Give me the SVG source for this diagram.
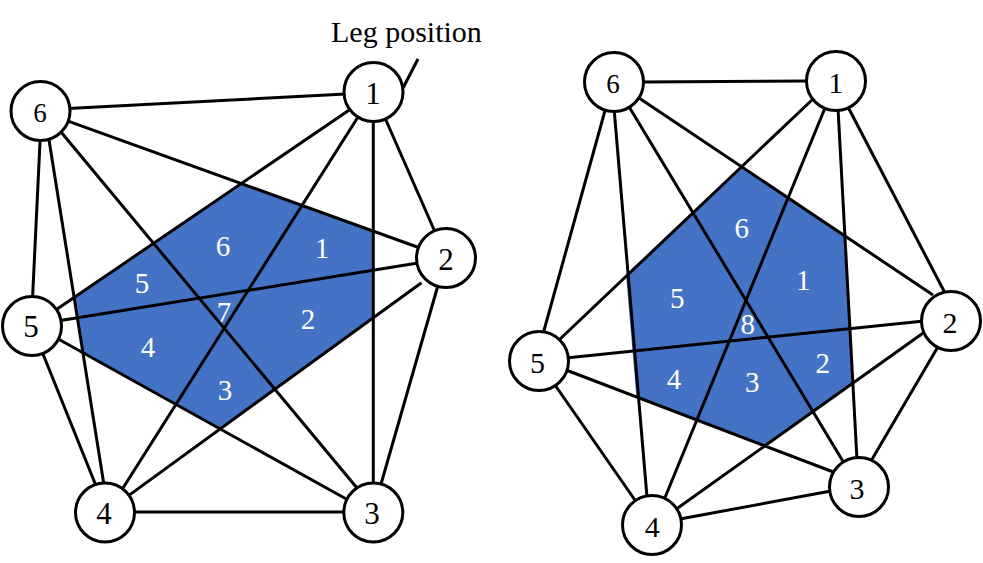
<svg xmlns="http://www.w3.org/2000/svg" width="983" height="563" viewBox="0 0 983 563">
<style>
.bg{fill:#ffffff}
.region{fill:#4472C4;stroke:none}
.edge{stroke:#000;stroke-width:3;fill:none;stroke-linecap:butt}
.node circle{fill:#fff;stroke:#000;stroke-width:3}
.nl{font-family:"Liberation Serif","Times New Roman",serif;font-size:31px;fill:#000;text-anchor:middle}
.nr{font-family:"Liberation Serif","Times New Roman",serif;font-size:30px;fill:#000;text-anchor:middle}
.n6{font-size:27px}
.rl{font-family:"Liberation Serif","Times New Roman",serif;font-size:29px;fill:#fff;text-anchor:middle}
.cap{font-family:"Liberation Serif","Times New Roman",serif;font-size:30px;fill:#000}
</style>
<rect class="bg" x="0" y="0" width="983" height="563"/>

<g id="regions">
  <polygon id="region-left" class="region" points="241.4,183.5 373.3,231 373.3,317.7 220.2,429 82.8,352.7 74,297.6"/>
  <polygon id="region-right" class="region" points="741.4,166.8 844.9,236.3 852.8,383.7 765.1,446.2 636.5,397.9 626,274.5"/>
</g>

<g id="region-labels">
  <text class="rl" x="223" y="255.5">6</text>
  <text class="rl" x="322" y="258">1</text>
  <text class="rl" x="142" y="292.5">5</text>
  <text class="rl" x="224" y="321.5">7</text>
  <text class="rl" x="308" y="329">2</text>
  <text class="rl" x="148" y="356.5">4</text>
  <text class="rl" x="225" y="400">3</text>

  <text class="rl" x="741.7" y="238.3">6</text>
  <text class="rl" x="803.3" y="290">1</text>
  <text class="rl" x="677.3" y="308.3">5</text>
  <text class="rl" x="747.7" y="334">8</text>
  <text class="rl" x="674" y="389.3">4</text>
  <text class="rl" x="752.3" y="391.7">3</text>
  <text class="rl" x="822.7" y="373.3">2</text>
</g>

<g id="connectors">
  <!-- left figure -->
  <line class="edge" x1="68" y1="108.5" x2="346" y2="94"/>
  <line class="edge" x1="66" y1="120.3" x2="420" y2="248"/>
  <line class="edge" x1="61" y1="132" x2="357" y2="488"/>
  <line class="edge" x1="40.2" y1="138" x2="32.5" y2="299"/>
  <line class="edge" x1="48.7" y1="138" x2="104" y2="485"/>
  <line class="edge" x1="350" y1="109.5" x2="55" y2="310.5"/>
  <line class="edge" x1="358" y1="117" x2="123" y2="488"/>
  <line class="edge" x1="373.3" y1="118" x2="373.3" y2="486"/>
  <line class="edge" x1="385" y1="118" x2="435.5" y2="233"/>
  <line class="edge" x1="59" y1="320.7" x2="421" y2="262.6"/>
  <line class="edge" x1="56" y1="337.8" x2="349" y2="500.5"/>
  <line class="edge" x1="42" y1="351.5" x2="96.5" y2="487"/>
  <line class="edge" x1="128.5" y1="495.6" x2="421.5" y2="282.7"/>
  <line class="edge" x1="132" y1="512" x2="346" y2="512"/>
  <line class="edge" x1="380.6" y1="485.5" x2="437.8" y2="286"/>
  <line class="edge" x1="418" y1="59" x2="403" y2="88"/>
  <!-- right figure -->
  <line class="edge" x1="642" y1="82" x2="808" y2="81"/>
  <line class="edge" x1="606" y1="107" x2="543" y2="334"/>
  <line class="edge" x1="614" y1="108" x2="647" y2="497"/>
  <line class="edge" x1="628" y1="105" x2="844" y2="463"/>
  <line class="edge" x1="639" y1="98" x2="933" y2="295"/>
  <line class="edge" x1="813" y1="99" x2="559" y2="340"/>
  <line class="edge" x1="825" y1="108" x2="664" y2="500"/>
  <line class="edge" x1="838" y1="108" x2="857" y2="460"/>
  <line class="edge" x1="848" y1="107" x2="945" y2="293"/>
  <line class="edge" x1="566" y1="358" x2="924" y2="321"/>
  <line class="edge" x1="566" y1="370" x2="836" y2="473"/>
  <line class="edge" x1="555" y1="385" x2="637" y2="503"/>
  <line class="edge" x1="675" y1="510" x2="926" y2="331"/>
  <line class="edge" x1="680" y1="519" x2="831" y2="491"/>
  <line class="edge" x1="871" y1="461" x2="939" y2="345"/>
</g>

<text id="caption" class="cap" x="331" y="42">Leg position</text>

<g id="left-node-1" class="node"><circle cx="373.5" cy="92" r="29.5"/><text class="nl" x="373" y="104">1</text></g>
<g id="left-node-2" class="node"><circle cx="446" cy="258" r="29.5"/><text class="nl" x="446" y="270">2</text></g>
<g id="left-node-3" class="node"><circle cx="373.3" cy="512.5" r="29.5"/><text class="nl" x="372" y="523.5">3</text></g>
<g id="left-node-4" class="node"><circle cx="105" cy="512.5" r="29.5"/><text class="nl" x="104" y="523.5">4</text></g>
<g id="left-node-5" class="node"><circle cx="32" cy="326" r="29.5"/><text class="nl" x="31" y="337">5</text></g>
<g id="left-node-6" class="node"><circle cx="40.5" cy="111" r="29.5"/><text class="nl n6" x="40" y="121.5">6</text></g>

<g id="right-node-1" class="node"><circle cx="836" cy="81" r="29.5"/><text class="nr" x="835.7" y="93.3">1</text></g>
<g id="right-node-2" class="node"><circle cx="951" cy="321" r="29.5"/><text class="nr" x="950" y="333.3">2</text></g>
<g id="right-node-3" class="node"><circle cx="859" cy="487" r="29.5"/><text class="nr" x="857" y="498.5">3</text></g>
<g id="right-node-4" class="node"><circle cx="652" cy="525" r="29.5"/><text class="nr" x="652.3" y="536.7">4</text></g>
<g id="right-node-5" class="node"><circle cx="539" cy="361" r="29.5"/><text class="nr" x="537.5" y="372.7">5</text></g>
<g id="right-node-6" class="node"><circle cx="614" cy="82" r="29.5"/><text class="nr n6" x="613" y="93">6</text></g>
</svg>
